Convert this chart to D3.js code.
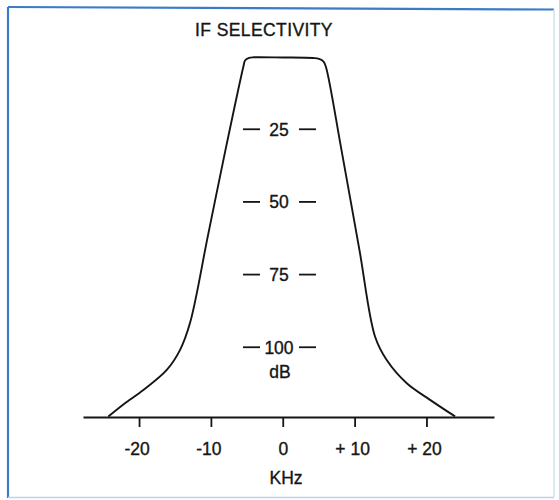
<!DOCTYPE html>
<html><head><meta charset="utf-8">
<script src="https://cdn.jsdelivr.net/npm/d3@7"></script>
<style>
html,body{margin:0;padding:0;background:#fff;}
svg{display:block;}
text{font-family:"Liberation Sans",Arial,Helvetica,sans-serif;fill:#151515;stroke:#151515;stroke-width:0.35px;}
</style></head>
<body>
<svg id="chart" width="559" height="500"></svg>
<script>
// Data
const title = "IF SELECTIVITY";
const freqKHz = [-24.27,-22.09,-19.40,-16.14,-14.29,-12.90,-10.44,-7.97,-5.46,-5.25,-4.69,-3.99,0.04,4.22,5.05,5.68,6.05,8.17,10.67,12.85,14.47,17.26,20.50,23.98];
const attenDB = [123.8,119.5,114.7,107.8,100.9,91.6,61.95,32.1,3.23,1.34,0.41,0.24,0.31,0.48,0.76,1.69,3.92,32.1,66.5,96.4,104.4,112.4,118.1,123.8];
const xTicks = [-20,-10,0,10,20];
const xTickLabels = ["-20","-10","0","+ 10","+ 20"];
const yTicks = [25,50,75,100];
const yTickLabels = ["25","50","75","100"];
const xLabel = "KHz";
const yLabel = "dB";

const svg = d3.select("#chart");

// frame
svg.append("line").attr("x1",8).attr("y1",7).attr("x2",554).attr("y2",9.5)
  .attr("stroke","#3b7cc6").attr("stroke-width",2.2);
svg.append("line").attr("x1",8).attr("y1",7).attr("x2",8).attr("y2",498)
  .attr("stroke","#3b7cc6").attr("stroke-width",2.2);
svg.append("line").attr("x1",554).attr("y1",9.5).attr("x2",554).attr("y2",497)
  .attr("stroke","#cfe2ee").attr("stroke-width",1.5);
svg.append("line").attr("x1",8).attr("y1",497.5).attr("x2",554).attr("y2",497.5)
  .attr("stroke","#b9d6ea").attr("stroke-width",1.5);

const x = d3.scaleLinear().domain([-27.8,29.4]).range([83,494]);
const y = d3.scaleLinear().domain([0,124]).range([56.6,417]);

// title
svg.append("text").attr("x",264).attr("y",36).attr("text-anchor","middle")
  .attr("font-size",17.5).attr("letter-spacing",0.4).text(title);

// x axis
const xAxis = d3.axisBottom(x).tickValues(xTicks).tickSize(10).tickSizeOuter(0)
  .tickPadding(16).tickFormat((d,i)=>xTickLabels[i]);
const gx = svg.append("g").attr("transform",`translate(0,${y(124)})`).call(xAxis);
gx.select(".domain").attr("stroke","#151515").attr("stroke-width",2);
gx.selectAll(".tick line").attr("stroke","#151515").attr("stroke-width",1.8);
gx.selectAll(".tick text").attr("font-size",17.5).attr("fill","#151515")
  .attr("font-family","Liberation Sans, Arial, sans-serif")
  .attr("dx",d=>d===0?0:-2.5);

svg.append("text").attr("x",286).attr("y",484).attr("text-anchor","middle")
  .attr("font-size",17.5).text(xLabel);

// y scale labels (centered)
const yg = svg.append("g");
yTicks.forEach((v,i)=>{
  const yy = y(v);
  yg.append("line").attr("x1",243).attr("x2",260).attr("y1",yy).attr("y2",yy)
    .attr("stroke","#151515").attr("stroke-width",1.8);
  yg.append("line").attr("x1",299).attr("x2",316).attr("y1",yy).attr("y2",yy)
    .attr("stroke","#151515").attr("stroke-width",1.8);
  yg.append("text").attr("x",279).attr("y",yy).attr("dy","0.36em")
    .attr("text-anchor","middle").attr("font-size",17.5).text(yTickLabels[i]);
});
svg.append("text").attr("x",280).attr("y",378).attr("text-anchor","middle")
  .attr("font-size",17.5).text(yLabel);

// curve
const pts = freqKHz.map((f,i)=>[f,attenDB[i]]);
const line = d3.line().x(d=>x(d[0])).y(d=>y(d[1])).curve(d3.curveCatmullRom.alpha(0.5));
svg.append("path").datum(pts).attr("d",line).attr("fill","none")
  .attr("stroke","#151515").attr("stroke-width",1.9).attr("stroke-linejoin","round");
</script>
</body></html>
